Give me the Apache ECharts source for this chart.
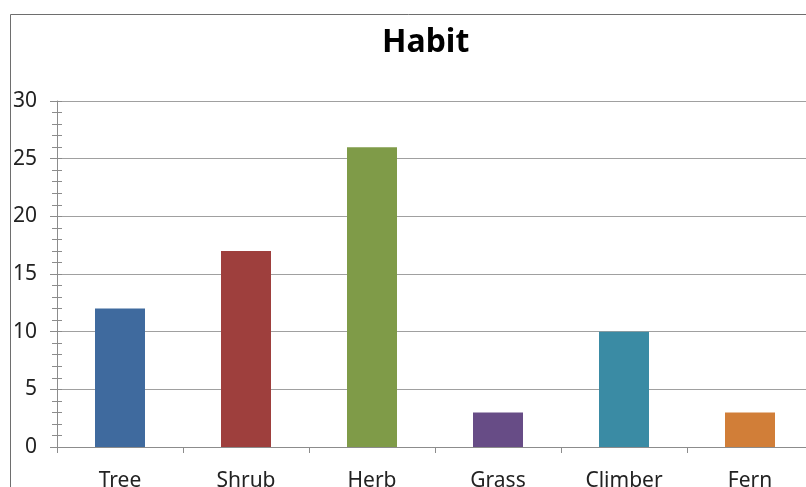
<!DOCTYPE html>
<html>
<head>
<meta charset="utf-8">
<script src="https://cdn.jsdelivr.net/npm/echarts@6/dist/echarts.min.js"></script>
<style>
  html, body { margin: 0; padding: 0; background: #fff; }
  #chart { width: 806px; height: 487px; }
</style>
</head>
<body>
<div id="chart"></div>
<script>
// Plant habit counts
const categories = ['Tree', 'Shrub', 'Herb', 'Grass', 'Climber', 'Fern'];
const counts = [12, 17, 26, 3, 10, 3];
const barColors = ['#3f6a9e', '#9e3f3d', '#7f9b48', '#674c86', '#3a8ba4', '#d17e38'];
const yTicks = [0, 5, 10, 15, 20, 25, 30];

const chart = echarts.init(document.getElementById('chart'), null, { renderer: 'canvas' });
const fontFamily = '"Noto Sans", "Open Sans", sans-serif';
const axisGray = '#8c8c8c';

const valueAxisBase = {
  type: 'value',
  min: yTicks[0],
  max: yTicks[yTicks.length - 1],
  interval: yTicks[1] - yTicks[0]
};

chart.setOption({
  animation: false,
  backgroundColor: '#fff',
  title: {
    text: 'Habit',
    left: 377,
    top: 22,
    textStyle: { fontFamily: fontFamily, fontSize: 32, fontWeight: 'bold', color: '#000' }
  },
  graphic: [{
    type: 'rect',
    shape: { x: 10.5, y: 14.5, width: 900, height: 600 },
    style: { fill: null, stroke: '#6e6e6e', lineWidth: 1 },
    silent: true
  }],
  // the plot runs slightly past the right edge of the canvas
  grid: { left: 57, width: 756, top: 101, height: 346, outerBoundsMode: 'none', containLabel: false },
  xAxis: {
    type: 'category',
    data: categories,
    axisLine: { show: true, lineStyle: { color: axisGray, width: 1 } },
    axisTick: { show: true, alignWithLabel: false, length: 6, lineStyle: { color: axisGray } },
    axisLabel: { margin: 24, fontFamily: fontFamily, fontSize: 21, color: '#222' },
    splitLine: { show: false }
  },
  yAxis: [
    Object.assign({}, valueAxisBase, {
      axisLine: { show: true, lineStyle: { color: axisGray, width: 1 } },
      axisTick: { show: true, length: 7, lineStyle: { color: axisGray } },
      minorTick: { show: true, splitNumber: 5, length: 5, lineStyle: { color: axisGray } },
      axisLabel: { margin: 20, fontFamily: fontFamily, fontSize: 21, color: '#222' },
      splitLine: { show: true, lineStyle: { color: '#a0a0a0', width: 1 } }
    }),
    // second copy of the scale, shifted right, draws the inner half of the crossing minor ticks
    Object.assign({}, valueAxisBase, {
      position: 'left',
      offset: -5,
      axisLine: { show: false },
      axisTick: { show: true, length: 5, lineStyle: { color: axisGray } },
      minorTick: { show: true, splitNumber: 5, length: 5, lineStyle: { color: axisGray } },
      axisLabel: { show: false },
      splitLine: { show: false }
    })
  ],
  series: [{
    type: 'bar',
    yAxisIndex: 0,
    data: counts.map((v, i) => ({ value: v, itemStyle: { color: barColors[i] } })),
    barWidth: 50
  }]
});
</script>
</body>
</html>
